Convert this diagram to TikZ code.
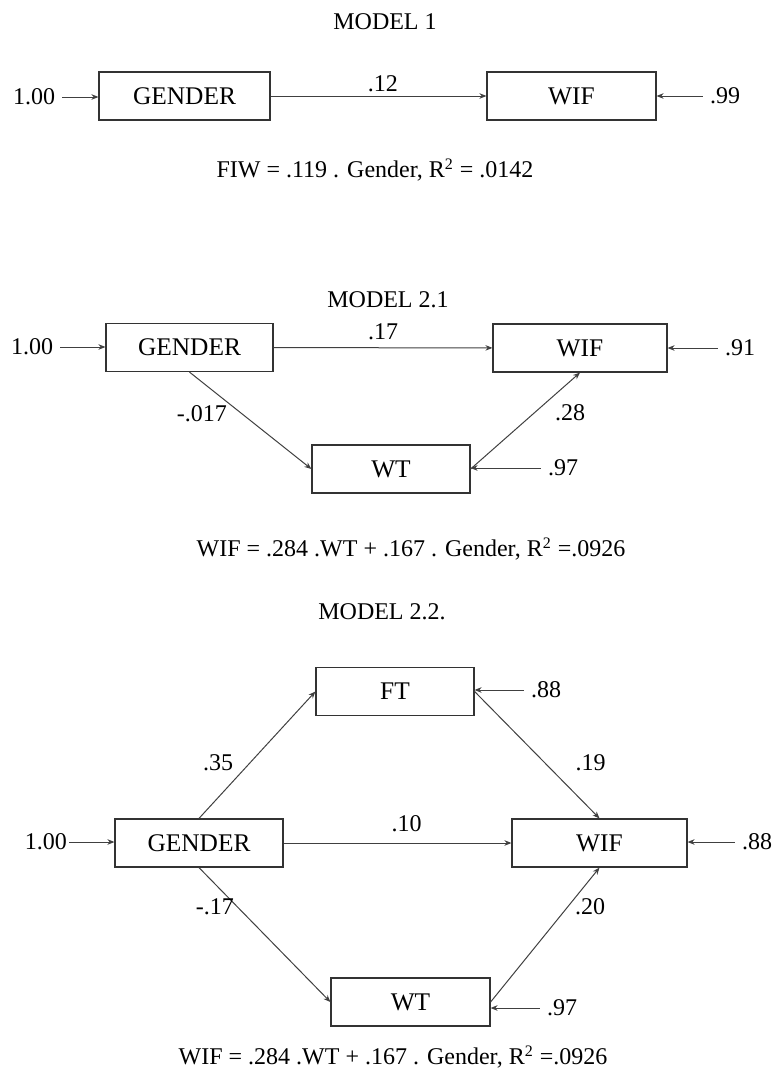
\documentclass[tikz,border=0pt]{standalone}
\usepackage{fontspec}
\setmainfont{Liberation Serif}
\usetikzlibrary{
  arrows.meta,
  positioning,
}

\begin{document}
\begin{tikzpicture}[
  x=0.5pt, y=-0.5pt,
  font=\fontsize{12}{14}\selectfont,
  var/.style={draw=black!80, line width=0.6pt, minimum height=24pt, inner sep=0pt, font=\fontsize{12.7}{15}\selectfont},
  link/.style={draw=black!75, line width=0.5pt, -{Stealth[length=3.5pt, width=2.8pt]}}
]
\useasboundingbox (0,0) rectangle (775,1077);

% MODEL 1
\node (title1) at (385,22) {MODEL 1};
\node[var, minimum width=85.5pt] (gen1) at (184.5,96) {GENDER};
\node[var, minimum width=84.5pt] (wif1) at (571.5,96) {WIF};
\node (in1) at (34,97) {1.00};
\node (res1) at (725,96) {.99};
\draw[link] (in1) -- (in1 -| gen1.west);
\draw[link] (res1) -- (res1 -| wif1.east);
\draw[link] (gen1) -- node[pos=0.52, above=-1.5pt] {.12} (wif1);
\node (eq1) at (375,170) {FIW = .119 . Gender, R\textsuperscript{2} = .0142};

% MODEL 2.1
\node (title21) at (388,300) {MODEL 2.1};
\node[var, minimum width=83.5pt] (gen21) at (189.5,347.5) {GENDER};
\node[var, minimum width=87pt] (wif21) at (580,348) {WIF};
\node[var, minimum width=79pt] (wt21) at (391,469) {WT};
\node (in21) at (32,347) {1.00};
\node (res21a) at (740,348) {.91};
\node (res21b) at (563,468) {.97};
\draw[link] (in21) -- (in21 -| gen21.west);
\draw[link] (res21a) -- (res21a -| wif21.east);
\draw[link] (res21b) -- (res21b -| wt21.east);
\draw[link] (gen21) -- node[above=0.5pt] {.17} (wif21);
\draw[link] (gen21.south) -- node[pos=0.43, left=4pt] {-.017} (wt21.west);
\draw[link] (wt21.east) -- node[pos=0.58, right=7pt] {.28} (wif21.south);
\node (eq21) at (411,549) {WIF = .284 .WT + .167 . Gender, R\textsuperscript{2} =.0926};

% MODEL 2.2
\node (title22) at (382,612) {MODEL 2.2.};
\node[var, minimum width=84pt] (gen22) at (199,843) {GENDER};
\node[var, minimum width=87.5pt] (wif22) at (599.5,843) {WIF};
\node[var, minimum width=79pt] (ft22) at (395,691.5) {FT};
\node[var, minimum width=79.5pt] (wt22) at (410.5,1002) {WT};
\node[inner sep=1pt] (in22) at (46,842) {1.00};
\node (res22a) at (546,690) {.88};
\node (res22b) at (757,842) {.88};
\node (res22c) at (562,1008) {.97};
\draw[link] (in22) -- (in22 -| gen22.west);
\draw[link] (res22a) -- (res22a -| ft22.east);
\draw[link] (res22b) -- (res22b -| wif22.east);
\draw[link] (res22c) -- (res22c -| wt22.east);
\draw[link] (gen22) -- node[pos=0.54, above=2pt] {.10} (wif22);
\draw[link] (gen22.north) -- node[pos=0.44, left=5pt] {.35} (ft22.west);
\draw[link] (ft22.east) -- node[pos=0.56, right=12pt] {.19} (wif22.north);
\draw[link] (gen22.south) -- node[pos=0.29, left=-2pt] {-.17} (wt22.west);
\draw[link] (wt22.east) -- node[pos=0.71, right=0pt] {.20} (wif22.south);
\node (eq22) at (393,1057) {WIF = .284 .WT + .167 . Gender, R\textsuperscript{2} =.0926};
\end{tikzpicture}
\end{document}
